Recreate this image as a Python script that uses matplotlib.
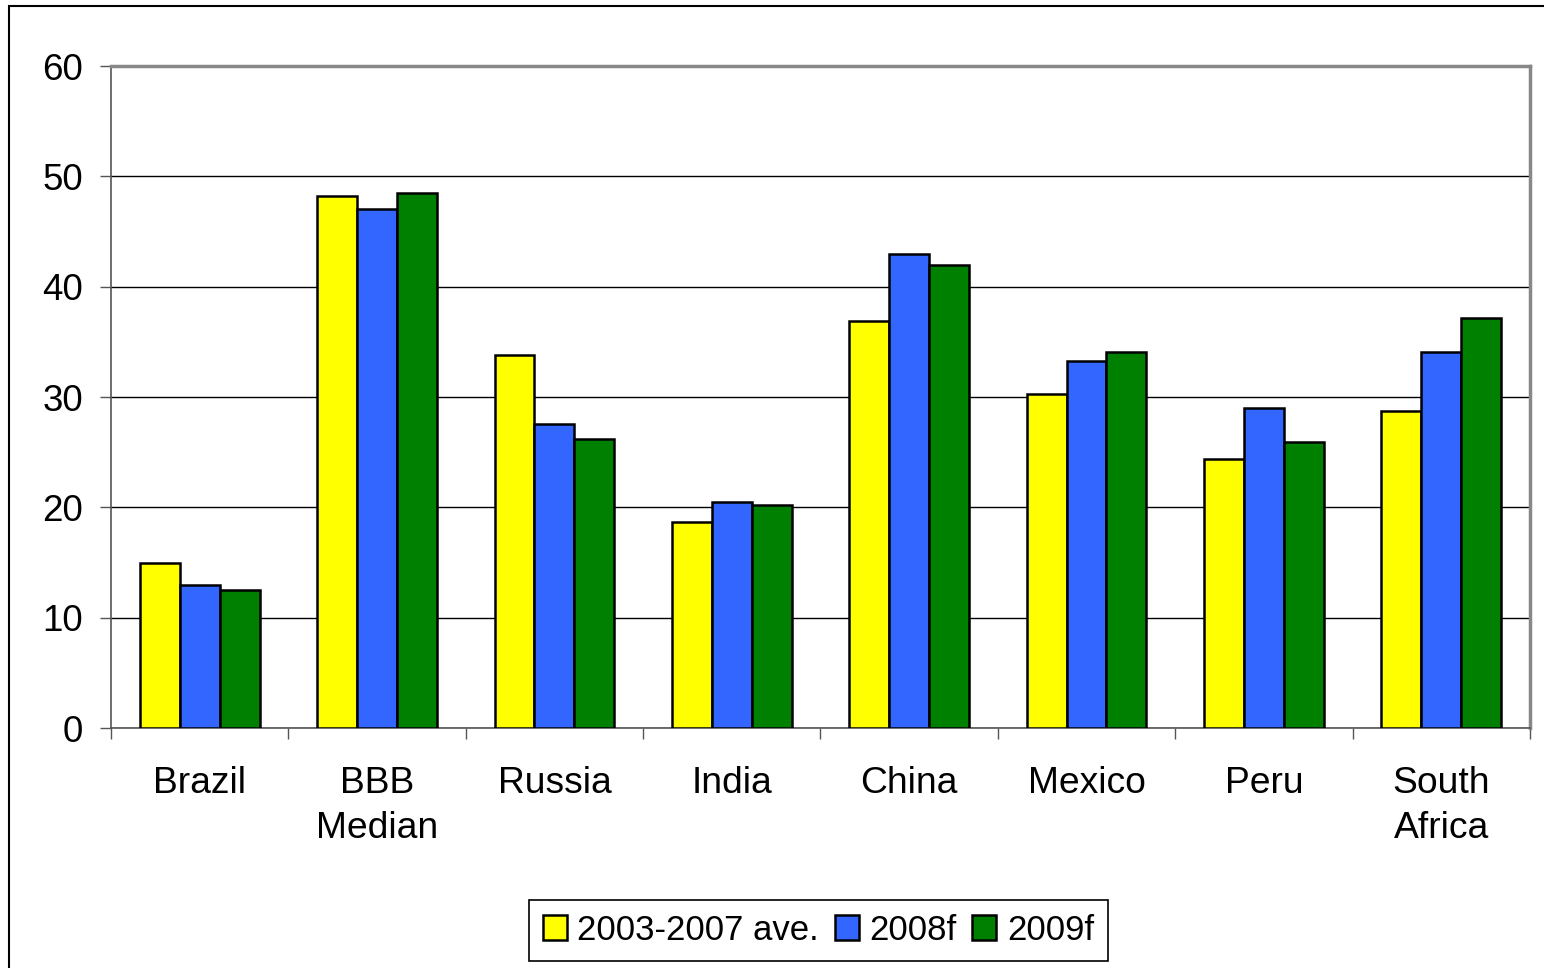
import numpy as np
import matplotlib
matplotlib.use('Agg')
import matplotlib.pyplot as plt
from matplotlib.patches import Rectangle

plt.rcParams['font.family'] = ['Liberation Sans', 'DejaVu Sans']

# dados
categorias = ['Brazil', 'BBB\nMedian', 'Russia', 'India', 'China', 'Mexico', 'Peru', 'South\nAfrica']
media_2003_2007 = [15.0, 48.2, 33.8, 18.7, 36.9, 30.3, 24.4, 28.7]
prev_2008 = [13.0, 47.0, 27.6, 20.5, 43.0, 33.3, 29.0, 34.1]
prev_2009 = [12.5, 48.5, 26.2, 20.2, 42.0, 34.1, 25.9, 37.2]
series = ['2003-2007 ave.', '2008f', '2009f']
cores = ['#FFFF00', '#3366FF', '#008000']

fig = plt.figure(figsize=(15.44, 9.68), dpi=100)
ax = fig.add_axes([0.0719, 0.2479, 0.9190, 0.6839])

x = np.arange(len(categorias))
larg = 0.225
for i, (vals, nome, cor) in enumerate(zip([media_2003_2007, prev_2008, prev_2009], series, cores)):
    ax.bar(x + (i - 1) * larg, vals, width=larg, color=cor, edgecolor='black',
           linewidth=1.8, label=nome, zorder=3)

ax.set_xlim(-0.5, len(categorias) - 0.5)
ax.set_ylim(0, 60)
ax.set_yticks(range(0, 61, 10))
ax.tick_params(axis='y', labelsize=26.5, length=8, width=1, color='#555555', pad=12)

# ticks do eixo x nos limites entre categorias
ax.set_xticks(np.arange(-0.5, len(categorias), 1.0))
ax.set_xticklabels([])
ax.set_xticks(x, minor=True)
ax.set_xticklabels(categorias, minor=True, fontsize=26.8, linespacing=1.4)
ax.tick_params(axis='x', which='major', length=8, width=1, color='#555555')
ax.tick_params(axis='x', which='minor', length=0, pad=27)

ax.grid(axis='y', color='black', linewidth=1, zorder=0)
for lado in ['left', 'bottom']:
    ax.spines[lado].set_color('#555555')
    ax.spines[lado].set_linewidth(1.2)
for lado in ['top', 'right']:
    ax.spines[lado].set_color('#888888')
    ax.spines[lado].set_linewidth(2.5)

leg = fig.legend(loc='center', bbox_to_anchor=(0.530, 0.039), ncol=3, fontsize=25,
                 frameon=True, fancybox=False, edgecolor='black', framealpha=1,
                 handlelength=0.7, handleheight=0.7, handletextpad=0.3,
                 columnspacing=0.45, borderpad=0.4)
leg.get_frame().set_linewidth(1.2)

# moldura externa do gráfico
fig.patches.append(Rectangle((0.006, -0.1), 1.2, 1.1 - 0.006, transform=fig.transFigure,
                             fill=False, edgecolor='black', linewidth=1.5))

plt.savefig('out.png', dpi=100)
